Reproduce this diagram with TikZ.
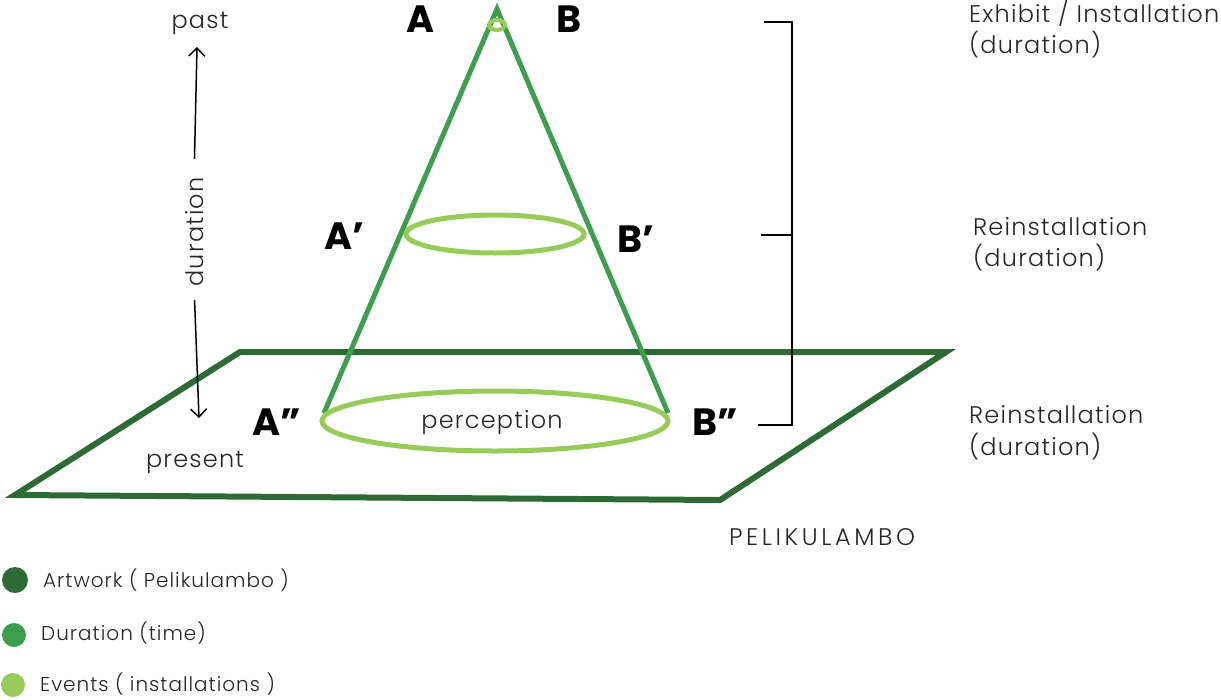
\documentclass[tikz,border=0pt]{standalone}
\usepackage{fontspec}
\setmainfont{Poppins}[UprightFont=* Light,BoldFont=* Bold]
\usetikzlibrary{arrows.meta}

\definecolor{artgreen}{HTML}{2D6A36}
\definecolor{timegreen}{HTML}{3F9D4F}
\definecolor{eventgreen}{HTML}{97CC5A}

\begin{document}
\begin{tikzpicture}[x=1pt,y=-1pt,
    letter/.style={font=\bfseries\fontsize{38}{38}\selectfont,inner sep=0pt},
    word/.style={font=\fontsize{24}{28}\selectfont\addfontfeatures{LetterSpace=5},text=black!85,inner sep=0pt,anchor=base},
    note/.style={word,anchor=base west},
    small/.style={font=\fontsize{20}{24}\selectfont\addfontfeatures{LetterSpace=5},text=black!85,inner sep=0pt,anchor=base west},
    timeline/.style={line width=1.5pt,-{Straight Barb[length=8pt,width=16pt]}},
    dot/.style={circle,inner sep=0pt,minimum size=#1}]
    \useasboundingbox (0,0) rectangle (1221,699);
    \pgfmathsetmacro{\cx}{495}
    \pgfmathsetmacro{\lw}{5}

    % Draw the artwork plane
    \draw [artgreen,line width=6pt,line join=miter]
        (240,352) -- (946,352) -- (720,500) -- (15,495) -- cycle;

    % Draw the cone (duration)
    \coordinate (apex) at (497,9);
    \coordinate (lo) at (324,413);
    \coordinate (ro) at (668,413);
    \draw [timegreen,line width=\lw pt,line join=miter] (lo) -- (apex) -- (ro);

    % Draw the events
    \draw [eventgreen,line width=4pt] (497,25) ellipse (8 and 5);
    \draw [eventgreen,line width=\lw pt] (\cx,234) ellipse (89 and 19);
    \draw [eventgreen,line width=\lw pt] (\cx,421) ellipse (173 and 30);

    % cone labels
    \node [letter] (A) at (420,19) {A};
    \node [letter] (B) at (569,19) {B};
    \node [letter] (A1) at (344,236) {A’};
    \node [letter] (B1) at (636,239) {B’};
    \node [letter] (A2) at (277,422) {A”};
    \node [letter] (B2) at (715,422) {B”};
    \node [word] (perc) at (492,428) {perception};

    % time axis
    \node [word] (past) at (200,28) {past};
    \node [word] (present) at (195,467) {present};
    \node [word,rotate=90] (dur) at (203,232) {duration};
    \coordinate (pasttip) at (197,47);
    \coordinate (nowtip) at (199,418);
    \draw [timeline,shorten <=18pt] (dur.east) -- (pasttip);
    \draw [timeline,shorten <=13pt] (dur.west) -- (nowtip);

    % bracket
    \coordinate (bt) at (792,22);
    \coordinate (bm) at (792,235);
    \coordinate (bb) at (792,425);
    \draw [line width=1.5pt] (764,22) -- (bt) -- (bb) -- (758,425);
    \draw [line width=1.5pt] (761,235) -- (bm);

    % right labels
    \node [note] (exh) at (969,22) {Exhibit / Installation};
    \node [note] (exhd) at (969,53) {(duration)};
    \node [note] (rei) at (973,235) {Reinstallation};
    \node [note] (reid) at (973,266) {(duration)};
    \node [note] (reii) at (969,423) {Reinstallation};
    \node [note] (reiid) at (969,455) {(duration)};
    \node [word,font=\fontsize{24}{28}\selectfont\addfontfeatures{LetterSpace=15}] (work) at (822,545) {PELIKULAMBO};

    % legend
    \node [dot=26pt,fill=artgreen] (la) at (15,580) {};
    \node [dot=24pt,fill=timegreen] (lb) at (14,635) {};
    \node [dot=24pt,fill=eventgreen] (lc) at (13,685) {};
    \node [small] (ta) at (43,587) {Artwork ( Pelikulambo )};
    \node [small] (tb) at (41,640) {Duration (time)};
    \node [small] (tc) at (40,691) {Events ( installations )};
\end{tikzpicture}
\end{document}
